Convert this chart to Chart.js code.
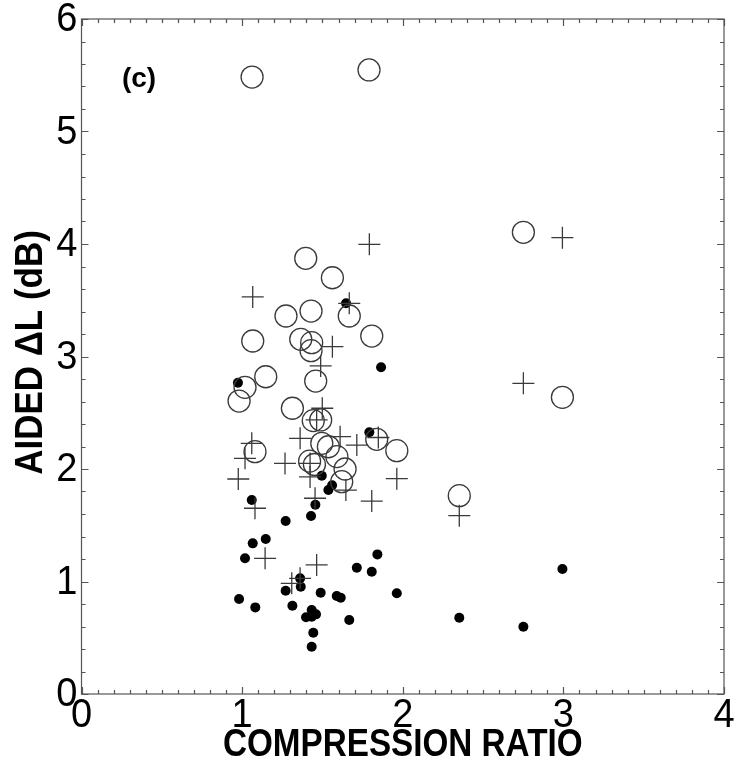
<!DOCTYPE html>
<html>
<head>
<meta charset="utf-8">
<script src="https://cdn.jsdelivr.net/npm/chart.js@4.4.1/dist/chart.umd.min.js"></script>
<style>
html,body{margin:0;padding:0;background:#fff;}
#wrap{width:738px;height:775px;position:relative;}
</style>
</head>
<body>
<div id="wrap"><canvas id="c"></canvas></div>
<script>
const xTicks = [0, 1, 2, 3, 4];
const yTicks = [0, 1, 2, 3, 4, 5, 6];
const panelLabel = '(c)';
const xTitle = 'COMPRESSION RATIO';
const yTitle = 'AIDED \u0394L (dB)';

// open circles
const circleX = [1.062, 1.790, 2.751, 2.994, 2.352, 1.396, 1.562, 1.429, 1.273, 1.667, 1.807, 1.066, 1.365, 1.433, 1.429, 1.147, 1.018, 0.981, 1.458, 1.313, 1.443, 1.489, 1.838, 1.963, 1.080, 1.496, 1.537, 1.590, 1.420, 1.450, 1.641, 1.620];
const circleY = [5.484, 5.547, 4.104, 2.637, 1.763, 3.873, 3.700, 3.404, 3.360, 3.360, 3.182, 3.138, 3.153, 3.123, 3.052, 2.820, 2.726, 2.604, 2.782, 2.540, 2.430, 2.436, 2.264, 2.163, 2.154, 2.228, 2.198, 2.110, 2.070, 2.040, 2.000, 1.887];

// crosses
const crossX = [1.792, 2.994, 2.751, 2.352, 1.066, 1.667, 1.562, 1.489, 1.499, 1.464, 1.060, 1.018, 0.976, 1.361, 1.610, 1.714, 1.848, 1.267, 1.423, 1.423, 1.963, 1.454, 1.646, 1.807, 1.080, 1.143, 1.464, 1.309, 1.361];
const crossY = [3.997, 4.056, 2.762, 1.585, 3.530, 3.473, 3.087, 2.916, 2.540, 2.436, 2.228, 2.095, 1.911, 2.273, 2.287, 2.213, 2.280, 2.050, 2.050, 1.930, 1.914, 1.740, 1.813, 1.715, 1.651, 1.206, 1.147, 0.984, 1.028];

// filled dots
const dotX = [1.647, 1.865, 0.974, 1.792, 1.496, 1.560, 1.537, 1.060, 1.456, 1.429, 1.271, 1.147, 1.066, 1.018, 1.842, 1.714, 1.807, 1.963, 1.361, 1.365, 1.271, 1.489, 1.589, 1.614, 0.981, 1.082, 1.313, 1.433, 1.460, 1.398, 1.433, 1.667, 1.443, 1.433, 2.994, 2.352, 2.751];
const dotY = [3.473, 2.904, 2.767, 2.326, 1.940, 1.855, 1.813, 1.724, 1.683, 1.582, 1.538, 1.378, 1.339, 1.206, 1.241, 1.123, 1.087, 0.895, 1.028, 0.954, 0.918, 0.900, 0.871, 0.856, 0.844, 0.770, 0.785, 0.747, 0.708, 0.682, 0.687, 0.658, 0.545, 0.420, 1.111, 0.678, 0.598];

const pts = (xs, ys) => xs.map((x, i) => ({x: x, y: ys[i]}));

const FONT = '"Liberation Sans", Arial, Helvetica, sans-serif';
const INK = '#000';
const FRAME = '#555';

function drawText(ctx, text, x, y, sx, rot) {
  ctx.save();
  ctx.translate(x, y);
  if (rot) ctx.rotate(rot);
  ctx.scale(sx, 1);
  ctx.fillText(text, 0, 0);
  ctx.restore();
}

const framePlugin = {
  id: 'framePlugin',
  afterDraw(chart) {
    const {ctx, chartArea: a, scales} = chart;
    const xs = scales.x, ys = scales.y;
    ctx.save();
    // frame
    ctx.strokeStyle = FRAME;
    ctx.lineWidth = 1.2;
    ctx.strokeRect(a.left, a.top, a.right - a.left, a.bottom - a.top);
    // inward ticks on all four sides
    ctx.beginPath();
    for (let i = 0; i <= 40; i++) {
      const v = i / 10;
      const px = Math.round(xs.getPixelForValue(v)) + 0.5;
      const len = (i % 10 === 0) ? 7 : 4;
      ctx.moveTo(px, a.bottom); ctx.lineTo(px, a.bottom - len);
      ctx.moveTo(px, a.top); ctx.lineTo(px, a.top + len);
    }
    for (let i = 0; i <= 30; i++) {
      const v = i / 5;
      const py = Math.round(ys.getPixelForValue(v)) + 0.5;
      const len = (i % 5 === 0) ? 7 : 4;
      ctx.moveTo(a.left, py); ctx.lineTo(a.left + len, py);
      ctx.moveTo(a.right, py); ctx.lineTo(a.right - len, py);
    }
    ctx.stroke();

    ctx.fillStyle = INK;
    // tick labels
    ctx.font = '40px ' + FONT;
    ctx.textBaseline = 'middle';
    ctx.textAlign = 'center';
    xTicks.forEach(v => drawText(ctx, String(v), xs.getPixelForValue(v), a.bottom + 22, 0.95, 0));
    ctx.textAlign = 'right';
    yTicks.forEach(v => drawText(ctx, String(v), a.left - 4, ys.getPixelForValue(v) + 1, 0.95, 0));

    // axis titles
    ctx.font = 'bold 38px ' + FONT;
    ctx.textAlign = 'center';
    drawText(ctx, xTitle, (a.left + a.right) / 2, a.bottom + 52, 0.875, 0);
    drawText(ctx, yTitle, 32, (a.top + a.bottom) / 2 - 4, 0.92, -Math.PI / 2);

    // panel label
    ctx.font = 'bold 28px ' + FONT;
    ctx.textAlign = 'center';
    ctx.fillText(panelLabel, xs.getPixelForValue(0.358), ys.getPixelForValue(5.46));
    ctx.restore();
  }
};

new Chart(document.getElementById('c'), {
  type: 'scatter',
  data: {
    datasets: [
      {
        label: 'open',
        data: pts(circleX, circleY),
        pointStyle: 'circle',
        pointRadius: 11,
        pointHoverRadius: 11,
        borderColor: '#3a3a3a',
        backgroundColor: 'rgba(0,0,0,0)',
        borderWidth: 1.3
      },
      {
        label: 'cross',
        data: pts(crossX, crossY),
        pointStyle: 'cross',
        pointRadius: 11,
        pointHoverRadius: 11,
        borderColor: '#3a3a3a',
        backgroundColor: 'rgba(0,0,0,0)',
        borderWidth: 1.3
      },
      {
        label: 'filled',
        data: pts(dotX, dotY),
        pointStyle: 'circle',
        pointRadius: 5,
        pointHoverRadius: 5,
        borderColor: '#000',
        backgroundColor: '#000',
        borderWidth: 0
      }
    ]
  },
  options: {
    responsive: true,
    maintainAspectRatio: false,
    animation: false,
    events: [],
    layout: {padding: {top: 19, right: 14, left: 0, bottom: 0}},
    plugins: {legend: {display: false}, tooltip: {enabled: false}},
    scales: {
      x: {
        type: 'linear',
        min: 0, max: 4,
        afterBuildTicks: (s) => { s.ticks = xTicks.map(v => ({value: v})); },
        afterFit: (s) => { s.height = 81; s.paddingLeft = 0; s.paddingRight = 0; },
        grid: {display: false, drawTicks: false},
        border: {display: false},
        ticks: {display: false},
        title: {display: false, text: xTitle}
      },
      y: {
        type: 'linear',
        min: 0, max: 6,
        afterBuildTicks: (s) => { s.ticks = yTicks.map(v => ({value: v})); },
        afterFit: (s) => { s.width = 81.5; s.paddingTop = 0; s.paddingBottom = 0; },
        grid: {display: false, drawTicks: false},
        border: {display: false},
        ticks: {display: false},
        title: {display: false, text: yTitle}
      }
    }
  },
  plugins: [framePlugin]
});
</script>
</body>
</html>
